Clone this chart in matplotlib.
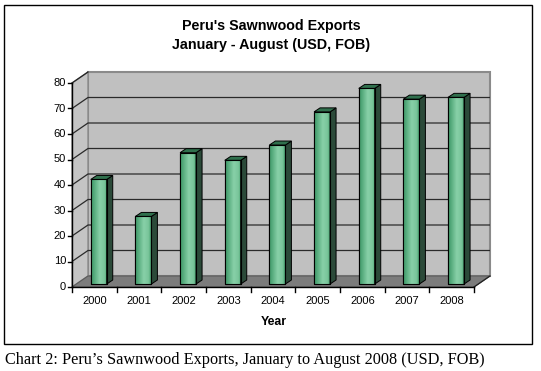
import matplotlib
matplotlib.use("Agg")
import matplotlib.pyplot as plt
import numpy as np
from matplotlib.patches import Polygon, Rectangle
from matplotlib.colors import LinearSegmentedColormap
from matplotlib.transforms import offset_copy

# ---- data ----
years = ['2000', '2001', '2002', '2003', '2004', '2005', '2006', '2007', '2008']
values = [41.0, 26.5, 51.5, 48.5, 54.5, 67.5, 76.7, 72.5, 73.2]
y_ticks = [0, 10, 20, 30, 40, 50, 60, 70, 80]
title_lines = ["Peru's Sawnwood Exports", "January - August (USD, FOB)"]
x_label = "Year"
caption = "Chart 2: Peru\u2019s Sawnwood Exports, January to August 2008 (USD, FOB)"

W, H = 541, 371
fig = plt.figure(figsize=(W / 100, H / 100), dpi=100)
fig.patch.set_facecolor('white')

# plot area (front plane) in pixels
L, R, T, B = 72, 474, 83, 287
ax = fig.add_axes([L / W, 1 - B / H, (R - L) / W, (B - T) / H])
n = len(years)
ymax = y_ticks[-1]
ax.set_xlim(0, n)
ax.set_ylim(0, ymax)
ax.axis('off')

sx = (R - L) / n          # px per category
sy = (B - T) / ymax       # px per unit
DX, DY = 16 / sx, 11 / sy  # depth of the 3D box

# walls
back = Polygon([(DX, DY), (n + DX, DY), (n + DX, ymax + DY), (DX, ymax + DY)],
               closed=True, fc='#c0c0c0', ec='#8a8a8a', lw=1.5, clip_on=False, zorder=1)
side = Polygon([(0, 0), (DX, DY), (DX, ymax + DY), (0, ymax)],
               closed=True, fc='#c4c4c4', ec='#8a8a8a', lw=1.0, clip_on=False, zorder=1)
floor = Polygon([(0, 0), (n, 0), (n + DX, DY), (DX, DY)],
                closed=True, fc='#7c7c7c', ec='#5a5a5a', lw=0.8, clip_on=False, zorder=1)
for p in (back, side, floor):
    ax.add_patch(p)

# gridlines
for v in y_ticks[1:-1]:
    ax.plot([0, DX, n + DX], [v, v + DY, v + DY], color='#2a2a2a', lw=0.9,
            clip_on=False, zorder=2, solid_capstyle='butt')

# axes lines
ax.plot([0, 0], [0, ymax], color='black', lw=1.0, clip_on=False, zorder=5)
ax.plot([0, n], [0, 0], color='black', lw=1.0, clip_on=False, zorder=5)
ax.plot([n, n + DX], [0, DY], color='#222222', lw=0.9, clip_on=False, zorder=5)
ax.plot([0, DX], [ymax, ymax + DY], color='#222222', lw=0.9, clip_on=False, zorder=5)

tick_len_y = 4 / sx
for v in y_ticks:
    ax.plot([-tick_len_y, 0], [v, v], color='black', lw=1.0, clip_on=False, zorder=5)
tick_len_x = 5 / sy
for i in range(n + 1):
    ax.plot([i, i], [0, -tick_len_x], color='black', lw=1.0, clip_on=False, zorder=5)

ylab_tr = offset_copy(ax.transData, fig=fig, x=-6, y=0, units='dots')
for v in y_ticks:
    ax.text(0, v, str(v), transform=ylab_tr, ha='right', va='center',
            fontsize=8, family='Liberation Sans', color='black')
xlab_tr = offset_copy(ax.transData, fig=fig, x=0, y=-14, units='dots')
for i, yr in enumerate(years):
    ax.text(i + 0.5, 0, yr, transform=xlab_tr, ha='center', va='center',
            fontsize=8, family='Liberation Sans', color='black')

# bars
bx, by = 4.4 / sx, 3 / sy
bw = 16 / sx
ddx, ddy = 6 / sx, 4 / sy
cmap = LinearSegmentedColormap.from_list(
    'g', [(0, '#3b9665'), (0.55, '#88d0a8'), (0.85, '#7ac59b'), (1, '#4fa877')])
grad = np.linspace(0, 1, 64).reshape(1, -1)
centers = np.arange(n) + 0.5 + bx
bars = ax.bar(centers, values, width=bw, bottom=by, color='#5fb585',
              edgecolor='black', lw=0.8, zorder=4)
for rect, v in zip(bars, values):
    x0 = rect.get_x()
    x1 = x0 + rect.get_width()
    top = by + v
    im = ax.imshow(grad, cmap=cmap, aspect='auto', extent=(x0, x1, by, top),
                   zorder=4, interpolation='bilinear')
    im.set_clip_path(rect)
    edge = Rectangle((x0, by), x1 - x0, v, fill=False, ec='black', lw=0.8, zorder=4.5)
    ax.add_patch(edge)
    sidef = Polygon([(x1, by), (x1 + ddx, by + ddy), (x1 + ddx, top + ddy), (x1, top)],
                    closed=True, fc='#2b4a39', ec='black', lw=0.7, zorder=4)
    topf = Polygon([(x0, top), (x1, top), (x1 + ddx, top + ddy), (x0 + ddx, top + ddy)],
                   closed=True, fc='#30704d', ec='black', lw=0.7, zorder=4)
    ax.add_patch(sidef)
    ax.add_patch(topf)
ax.set_xlim(0, n)
ax.set_ylim(0, ymax)

# titles and labels
fig.text(271 / W, 1 - 26 / H, title_lines[0], ha='center', va='center',
         fontsize=10.3, fontweight='bold', family='Liberation Sans')
fig.text(271 / W, 1 - 45 / H, title_lines[1], ha='center', va='center',
         fontsize=10.3, fontweight='bold', family='Liberation Sans')
fig.text(274 / W, 1 - 322 / H, x_label, ha='center', va='center',
         fontsize=8.8, fontweight='bold', family='Liberation Sans')

# outer frame
fig.add_artist(Rectangle((4 / W, 1 - 344 / H), 528 / W, 339 / H,
                         transform=fig.transFigure, fill=False, ec='black', lw=1.0))

fig.text(5 / W, 1 - 360 / H, caption, ha='left', va='center',
         fontsize=11.7, family='Liberation Serif')

fig.savefig('out.png', dpi=100)
